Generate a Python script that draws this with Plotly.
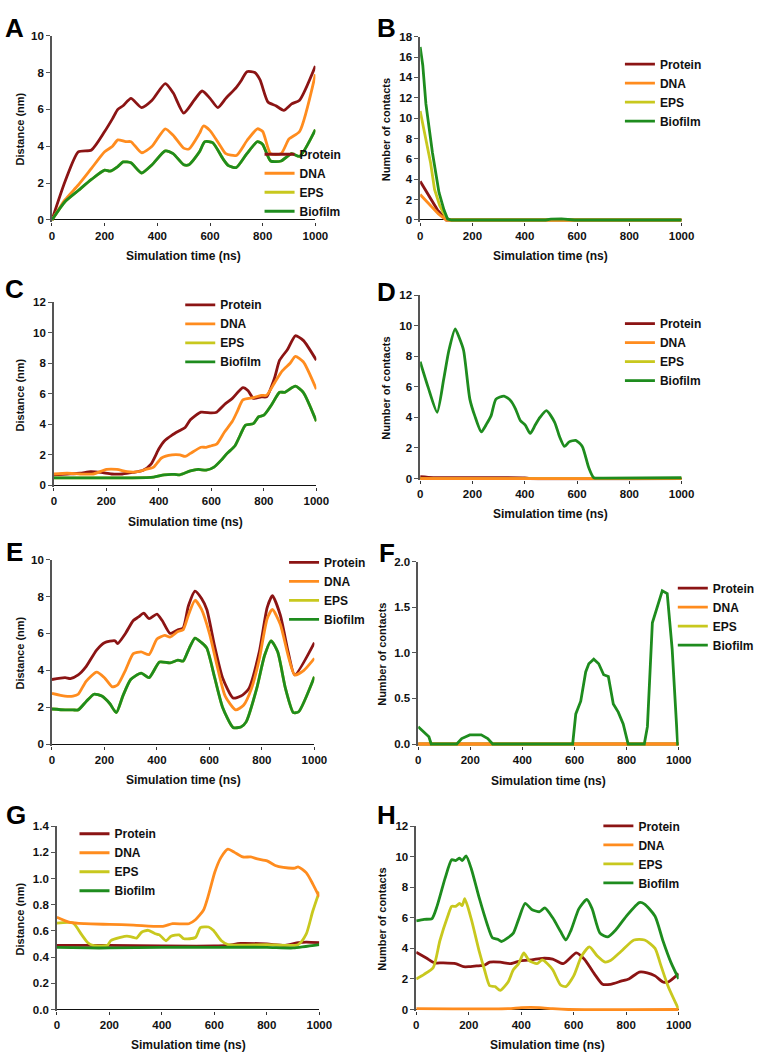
import plotly.graph_objects as go

W, H = 771, 1061
FONT = "Arial, Liberation Sans, sans-serif"

SERIES = ["Protein", "DNA", "EPS", "Biofilm"]
COLORS = {"Protein": "#8B1414", "DNA": "#FF8C1E", "EPS": "#C8C81E", "Biofilm": "#1E8C1E"}
# drawing order (later = on top); legend order is kept with legendrank
DRAW_ORDER = ["Protein", "EPS", "DNA", "Biofilm"]

ZERO_T = [0, 1000]
ZERO_Y = [0, 0]

# ---------------- Panel A ----------------
A_protein_t = [0, 50, 100, 150, 200, 230, 250, 270, 300, 340, 380, 430, 460, 500, 540, 570, 600, 630, 660, 700, 720, 740, 770, 790, 820, 850, 880, 910, 940, 1000]
A_protein_y = [0, 2.1, 3.7, 3.8, 4.8, 5.5, 6.0, 6.2, 6.6, 6.1, 6.5, 7.4, 6.9, 5.8, 6.5, 7.0, 6.6, 6.1, 6.6, 7.2, 7.6, 8.05, 8.0, 7.6, 6.4, 6.2, 5.95, 6.3, 6.5, 8.35]
A_dna_t = [0, 50, 100, 150, 200, 230, 250, 280, 300, 340, 380, 430, 460, 500, 520, 560, 575, 600, 640, 660, 700, 740, 780, 800, 830, 870, 900, 940, 1000]
A_dna_y = [0, 1.1, 1.9, 2.8, 3.7, 4.0, 4.35, 4.25, 4.25, 3.65, 4.0, 4.95, 4.6, 3.9, 3.85, 4.7, 5.1, 4.85, 4.0, 3.6, 3.5, 4.3, 4.95, 4.8, 3.6, 3.6, 4.4, 4.8, 7.9]
A_bio_t = [0, 50, 100, 150, 200, 220, 250, 270, 300, 340, 380, 430, 460, 500, 520, 560, 580, 610, 650, 670, 700, 740, 780, 800, 830, 870, 910, 940, 1000]
A_bio_y = [0, 1.0, 1.6, 2.2, 2.7, 2.65, 2.9, 3.15, 3.1, 2.55, 3.0, 3.75, 3.6, 3.0, 3.0, 3.7, 4.25, 4.2, 3.3, 2.95, 2.85, 3.6, 4.25, 4.1, 3.2, 3.2, 3.6, 3.45, 4.9]
A_eps_t = A_bio_t
A_eps_y = A_bio_y

# ---------------- Panel B ----------------
B_protein_t = [0, 66, 100, 1000]
B_protein_y = [3.8, 1.0, 0, 0]
B_dna_t = [0, 70, 100, 1000]
B_dna_y = [2.5, 0.6, 0, 0]
B_eps_t = [0, 20, 40, 55, 75, 95, 110, 1000]
B_eps_y = [10.7, 8.3, 5.6, 3.0, 1.4, 0.4, 0, 0]
B_bio_t = [0, 10, 22, 47, 72, 91, 105, 120, 480, 500, 540, 570, 590, 1000]
B_bio_y = [17.0, 15.2, 11.4, 6.6, 2.7, 1.0, 0.1, 0, 0, 0.08, 0.1, 0.08, 0, 0]

# ---------------- Panel C ----------------
C_protein_t = [0, 50, 100, 140, 180, 220, 260, 300, 340, 370, 400, 420, 450, 480, 500, 520, 560, 600, 620, 650, 680, 720, 740, 760, 790, 810, 840, 860, 890, 920, 950, 1000]
C_protein_y = [0.7, 0.75, 0.8, 0.9, 0.85, 0.75, 0.75, 0.85, 1.0, 1.4, 2.4, 2.9, 3.3, 3.6, 3.8, 4.3, 4.8, 4.75, 4.8, 5.3, 5.7, 6.4, 6.2, 5.7, 5.8, 5.8, 7.0, 8.2, 8.9, 9.8, 9.5, 8.2]
C_dna_t = [0, 50, 100, 150, 200, 240, 280, 320, 350, 380, 410, 450, 480, 500, 520, 560, 580, 600, 620, 650, 680, 700, 720, 760, 790, 810, 840, 870, 900, 920, 950, 1000]
C_dna_y = [0.75, 0.8, 0.75, 0.75, 1.05, 1.05, 0.9, 0.9, 1.05, 1.2, 1.8, 2.0, 2.0, 1.9, 2.1, 2.5, 2.5, 2.6, 2.7, 3.5, 4.2, 4.9, 5.6, 5.75, 5.9, 5.9, 6.7, 7.5, 8.0, 8.45, 8.1, 6.3]
C_bio_t = [0, 100, 200, 300, 380, 420, 460, 480, 520, 550, 580, 610, 640, 660, 690, 710, 730, 760, 780, 800, 830, 860, 880, 920, 950, 1000]
C_bio_y = [0.5, 0.5, 0.5, 0.5, 0.55, 0.7, 0.72, 0.7, 0.95, 1.05, 1.0, 1.2, 1.7, 2.1, 2.6, 3.3, 3.95, 4.05, 4.5, 4.6, 5.3, 6.1, 6.1, 6.5, 6.1, 4.2]
C_eps_t = C_bio_t
C_eps_y = C_bio_y

# ---------------- Panel D ----------------
D_protein_t = [0, 50, 200, 400, 420, 1000]
D_protein_y = [0.12, 0.06, 0.06, 0.04, 0, 0]
D_dna_t = ZERO_T
D_dna_y = ZERO_Y
D_eps_t = ZERO_T
D_eps_y = ZERO_Y
D_bio_t = [0, 30, 65, 90, 110, 134, 150, 166, 190, 209, 234, 255, 271, 290, 321, 346, 365, 383, 402, 421, 440, 458, 483, 514, 533, 552, 570, 595, 620, 645, 664, 700, 1000]
D_bio_y = [7.65, 6.0, 4.34, 6.5, 8.4, 9.8, 9.2, 8.4, 5.2, 4.1, 3.05, 3.6, 4.1, 5.2, 5.4, 5.1, 4.55, 3.8, 3.5, 2.95, 3.5, 4.0, 4.45, 3.7, 2.75, 2.1, 2.4, 2.5, 2.1, 0.7, 0.05, 0.03, 0.05]

# ---------------- Panel E ----------------
E_protein_t = [0, 50, 70, 100, 130, 170, 200, 240, 250, 280, 310, 330, 350, 370, 400, 420, 450, 480, 500, 520, 545, 570, 590, 620, 650, 690, 720, 750, 790, 820, 840, 870, 900, 925, 1000]
E_protein_y = [3.5, 3.6, 3.55, 3.75, 4.2, 5.1, 5.5, 5.6, 5.45, 6.0, 6.7, 6.9, 7.1, 6.8, 7.05, 6.7, 6.0, 6.2, 6.3, 7.5, 8.3, 7.9, 7.3, 5.3, 3.6, 2.5, 2.6, 3.0, 5.0, 7.4, 8.05, 7.0, 5.0, 3.75, 5.5]
E_dna_t = [0, 50, 80, 100, 130, 170, 200, 230, 250, 280, 310, 340, 370, 400, 430, 450, 480, 500, 520, 545, 570, 600, 630, 660, 700, 730, 760, 790, 820, 840, 870, 900, 925, 960, 1000]
E_dna_y = [2.75, 2.6, 2.6, 2.7, 3.4, 3.9, 3.6, 3.1, 3.2, 4.0, 4.9, 5.0, 4.85, 5.7, 5.9, 5.8, 6.1, 6.2, 7.0, 7.8, 7.3, 6.0, 4.2, 2.6, 1.85, 2.1, 3.0, 4.6, 6.8, 7.3, 6.5, 4.8, 3.75, 4.0, 4.65]
E_bio_t = [0, 50, 80, 100, 130, 160, 190, 220, 245, 270, 300, 340, 370, 410, 450, 480, 500, 520, 545, 570, 590, 620, 650, 690, 720, 740, 780, 810, 835, 860, 890, 920, 940, 1000]
E_bio_y = [1.9, 1.85, 1.85, 1.85, 2.3, 2.7, 2.6, 2.2, 1.7, 2.6, 3.5, 3.85, 3.6, 4.45, 4.4, 4.55, 4.5, 5.1, 5.75, 5.5, 5.2, 3.6, 2.0, 0.9, 0.92, 1.2, 3.0, 4.8, 5.6, 5.0, 3.0, 1.7, 1.75, 3.65]
E_eps_t = E_bio_t
E_eps_y = E_bio_y

# ---------------- Panel F ----------------
F_protein_t = ZERO_T
F_protein_y = ZERO_Y
F_eps_t = ZERO_T
F_eps_y = ZERO_Y
F_dna_t = ZERO_T
F_dna_y = ZERO_Y
F_bio_t = [0, 20, 41, 50, 148, 167, 198, 242, 267, 286, 593, 605, 624, 643, 655, 674, 693, 712, 730, 749, 768, 787, 806, 868, 880, 899, 917, 937, 956, 975, 996, 1000]
F_bio_y = [0.19, 0.14, 0.08, 0.0, 0.0, 0.06, 0.1, 0.1, 0.06, 0.0, 0.0, 0.33, 0.47, 0.79, 0.88, 0.93, 0.88, 0.76, 0.74, 0.44, 0.35, 0.22, 0.0, 0.0, 0.19, 1.33, 1.5, 1.68, 1.65, 1.04, 0.0, 0.0]

# ---------------- Panel G ----------------
G_protein_t = [0, 200, 400, 600, 650, 700, 800, 870, 920, 950, 1000]
G_protein_y = [0.49, 0.49, 0.485, 0.485, 0.49, 0.505, 0.50, 0.49, 0.51, 0.515, 0.51]
G_dna_t = [0, 50, 106, 200, 292, 404, 441, 503, 528, 559, 578, 602, 625, 652, 677, 708, 739, 764, 801, 832, 863, 907, 919, 950, 975, 1000]
G_dna_y = [0.705, 0.665, 0.655, 0.65, 0.645, 0.635, 0.655, 0.655, 0.685, 0.76, 0.875, 1.05, 1.16, 1.225, 1.2, 1.165, 1.165, 1.15, 1.135, 1.10, 1.085, 1.08, 1.09, 1.045, 0.96, 0.86]
G_eps_t = [0, 62, 93, 118, 137, 193, 205, 242, 267, 292, 304, 323, 348, 373, 391, 416, 435, 466, 484, 528, 547, 578, 596, 627, 652, 800, 919, 950, 975, 1000]
G_eps_y = [0.66, 0.66, 0.575, 0.51, 0.49, 0.49, 0.525, 0.55, 0.56, 0.55, 0.545, 0.59, 0.605, 0.58, 0.57, 0.525, 0.56, 0.57, 0.54, 0.55, 0.625, 0.63, 0.605, 0.525, 0.495, 0.495, 0.495, 0.575, 0.75, 0.9]
G_bio_t = [0, 120, 200, 400, 600, 800, 900, 1000]
G_bio_y = [0.475, 0.47, 0.47, 0.475, 0.475, 0.475, 0.47, 0.495]

# ---------------- Panel H ----------------
H_protein_t = [0, 40, 70, 100, 150, 180, 200, 230, 260, 280, 320, 360, 400, 440, 480, 520, 560, 610, 640, 680, 710, 740, 780, 810, 850, 880, 910, 940, 960, 1000]
H_protein_y = [3.75, 3.35, 3.05, 3.05, 3.0, 2.8, 2.8, 2.85, 2.9, 3.1, 3.1, 3.0, 3.2, 3.25, 3.35, 3.3, 3.0, 3.7, 3.3, 2.3, 1.65, 1.65, 1.85, 2.0, 2.45, 2.4, 2.2, 1.8, 1.8, 2.35]
H_dna_t = [0, 350, 400, 470, 520, 580, 1000]
H_dna_y = [0.05, 0.05, 0.12, 0.12, 0.05, 0, 0]
H_eps_t = [0, 30, 65, 90, 120, 135, 150, 165, 175, 185, 210, 240, 260, 280, 300, 320, 350, 370, 390, 410, 430, 460, 480, 500, 520, 550, 570, 600, 630, 660, 690, 720, 740, 780, 830, 870, 910, 930, 960, 1000]
H_eps_y = [2.0, 2.3, 2.75, 4.5, 6.1, 6.75, 6.75, 6.95, 6.8, 7.25, 5.9, 3.8, 2.6, 1.55, 1.5, 1.25, 1.8, 2.6, 3.0, 3.7, 3.2, 3.0, 3.25, 3.0, 2.6, 1.6, 1.5, 2.2, 3.5, 4.1, 3.5, 3.1, 3.2, 3.8, 4.55, 4.55, 4.0, 3.0, 1.5, 0.0]
H_bio_t = [0, 30, 60, 80, 110, 135, 150, 165, 175, 190, 210, 240, 270, 290, 310, 325, 350, 370, 390, 415, 440, 470, 490, 520, 550, 570, 590, 620, 650, 670, 700, 730, 760, 800, 850, 870, 910, 940, 970, 1000]
H_bio_y = [5.8, 5.9, 5.95, 6.8, 8.6, 9.8, 9.75, 9.9, 9.75, 10.05, 9.2, 7.3, 5.6, 4.7, 4.6, 4.45, 4.7, 5.0, 5.9, 6.95, 6.55, 6.4, 6.65, 6.0, 5.1, 4.55, 5.2, 6.6, 7.2, 6.6, 5.0, 4.75, 5.2, 6.1, 7.0, 6.9, 6.1, 4.5, 3.1, 2.0]

DATA = {
    "A": {"Protein": (A_protein_t, A_protein_y), "DNA": (A_dna_t, A_dna_y), "EPS": (A_eps_t, A_eps_y), "Biofilm": (A_bio_t, A_bio_y)},
    "B": {"Protein": (B_protein_t, B_protein_y), "DNA": (B_dna_t, B_dna_y), "EPS": (B_eps_t, B_eps_y), "Biofilm": (B_bio_t, B_bio_y)},
    "C": {"Protein": (C_protein_t, C_protein_y), "DNA": (C_dna_t, C_dna_y), "EPS": (C_eps_t, C_eps_y), "Biofilm": (C_bio_t, C_bio_y)},
    "D": {"Protein": (D_protein_t, D_protein_y), "DNA": (D_dna_t, D_dna_y), "EPS": (D_eps_t, D_eps_y), "Biofilm": (D_bio_t, D_bio_y)},
    "E": {"Protein": (E_protein_t, E_protein_y), "DNA": (E_dna_t, E_dna_y), "EPS": (E_eps_t, E_eps_y), "Biofilm": (E_bio_t, E_bio_y)},
    "F": {"Protein": (F_protein_t, F_protein_y), "DNA": (F_dna_t, F_dna_y), "EPS": (F_eps_t, F_eps_y), "Biofilm": (F_bio_t, F_bio_y)},
    "G": {"Protein": (G_protein_t, G_protein_y), "DNA": (G_dna_t, G_dna_y), "EPS": (G_eps_t, G_eps_y), "Biofilm": (G_bio_t, G_bio_y)},
    "H": {"Protein": (H_protein_t, H_protein_y), "DNA": (H_dna_t, H_dna_y), "EPS": (H_eps_t, H_eps_y), "Biofilm": (H_bio_t, H_bio_y)},
}

X_TITLE = "Simulation time (ns)"
Y_DIST = "Distance (nm)"
Y_CONT = "Number of contacts"

# layout of panels (pixel boxes: x0, x1, y0(top), y1(bottom)); leg = (legend left px, first row px)
PANELS = [
    dict(k="A", box=(50, 319, 30, 218), ymax=10, dtick=2, fmt="d", yt=Y_DIST, leg=(262, 154), xty=252, ytx=17, let=(12, 22), shape="spline"),
    dict(k="B", box=(426, 693, 31, 218), ymax=18, dtick=2, fmt="d", yt=Y_CONT, leg=(630, 63), xty=252, ytx=391, let=(392, 22), shape="linear"),
    dict(k="C", box=(52, 320, 299, 486), ymax=12, dtick=2, fmt="d", yt=Y_DIST, leg=(181, 306), xty=521, ytx=17, let=(12, 286), shape="spline"),
    dict(k="D", box=(426, 693, 292, 479), ymax=12, dtick=2, fmt="d", yt=Y_CONT, leg=(630, 325), xty=513, ytx=391, let=(392, 289), shape="spline"),
    dict(k="E", box=(50, 318, 559, 747), ymax=10, dtick=2, fmt="d", yt=Y_DIST, leg=(287, 566), xty=781, ytx=17, let=(12, 551), shape="spline"),
    dict(k="F", box=(424, 690, 561, 747), ymax=2.0, dtick=0.5, fmt=".1f", yt=Y_CONT, leg=(684, 592), xty=782, ytx=387, let=(392, 552), shape="linear"),
    dict(k="G", box=(55, 323, 828, 1015), ymax=1.4, dtick=0.2, fmt=".1f", yt=Y_DIST, leg=(73, 840), xty=1049, ytx=17, let=(13, 817), shape="spline"),
    dict(k="H", box=(422, 690, 828, 1015), ymax=12, dtick=2, fmt="d", yt=Y_CONT, leg=(608, 832), xty=1049, ytx=387, let=(392, 817), shape="spline"),
]


def px(x):
    return x / W


def py(y):
    return 1 - y / H


fig = go.Figure()
layout = dict(
    width=W, height=H, margin=dict(l=0, r=0, t=0, b=0),
    paper_bgcolor="white", plot_bgcolor="white",
    font=dict(family=FONT, color="#111"),
    annotations=[],
)

for i, p in enumerate(PANELS, start=1):
    x0, x1, y0, y1 = p["box"]
    xa = "x" if i == 1 else f"x{i}"
    ya = "y" if i == 1 else f"y{i}"
    lg = "legend" if i == 1 else f"legend{i}"
    for name in DRAW_ORDER:
        t, v = DATA[p["k"]][name]
        fig.add_trace(go.Scatter(
            x=t, y=v, name=name, mode="lines", xaxis=xa, yaxis=ya, legend=lg,
            legendrank=1000 + SERIES.index(name),
            line=dict(color=COLORS[name], width=2.8, shape=p["shape"], smoothing=0.6),
        ))
    plot_h = y1 - y0
    pad = p["ymax"] * 2.0 / plot_h
    layout["xaxis" if i == 1 else f"xaxis{i}"] = dict(
        domain=[px(x0), px(x1)], anchor=ya, range=[0, 1000], dtick=200,
        showline=False, showgrid=False, zeroline=False,
        ticks="outside", ticklen=3, tickcolor="#333", tickwidth=1,
        tickfont=dict(size=11.5, family=FONT, color="#111", weight="bold"),
    )
    layout["yaxis" if i == 1 else f"yaxis{i}"] = dict(
        domain=[py(y1), py(y0)], anchor=xa, range=[-pad, p["ymax"]], dtick=p["dtick"],
        tickformat=p["fmt"], showline=True, linecolor="#555", linewidth=1.5, showgrid=False,
        zeroline=True, zerolinecolor="#111", zerolinewidth=1.2,
        ticks="outside", ticklen=4, tickcolor="#555", tickwidth=1,
        tickfont=dict(size=11.5, family=FONT, color="#111", weight="bold"),
    )
    lx, ly = p["leg"]
    if p["k"] == "A":
        ly_top = ly - 7 - 12
    else:
        ly_top = ly - 7 - 12
    layout[lg] = dict(
        x=px(lx), y=py(ly_top), xanchor="left", yanchor="top", xref="paper", yref="paper",
        bgcolor="rgba(0,0,0,0)", borderwidth=0, tracegroupgap=0, itemwidth=30,
        font=dict(size=12, family=FONT, color="#111", weight="bold"),
    )
    # axis titles
    layout["annotations"].append(dict(
        x=px((x0 + x1) / 2), y=py(p["xty"]), xref="paper", yref="paper", text=X_TITLE,
        showarrow=False, xanchor="center", yanchor="middle",
        font=dict(size=12, family=FONT, color="#111", weight="bold"),
    ))
    layout["annotations"].append(dict(
        x=px(p["ytx"]), y=py((y0 + y1) / 2), xref="paper", yref="paper", text=p["yt"],
        showarrow=False, xanchor="center", yanchor="middle", textangle=-90,
        font=dict(size=11, family=FONT, color="#111", weight="bold"),
    ))
    lx2, ly2 = p["let"]
    layout["annotations"].append(dict(
        x=px(lx2), y=py(ly2), xref="paper", yref="paper", text=p["k"],
        showarrow=False, xanchor="center", yanchor="middle",
        font=dict(size=26, family=FONT, color="#000", weight="bold"),
    ))

fig.update_layout(**layout)
fig.write_html("out.html")
